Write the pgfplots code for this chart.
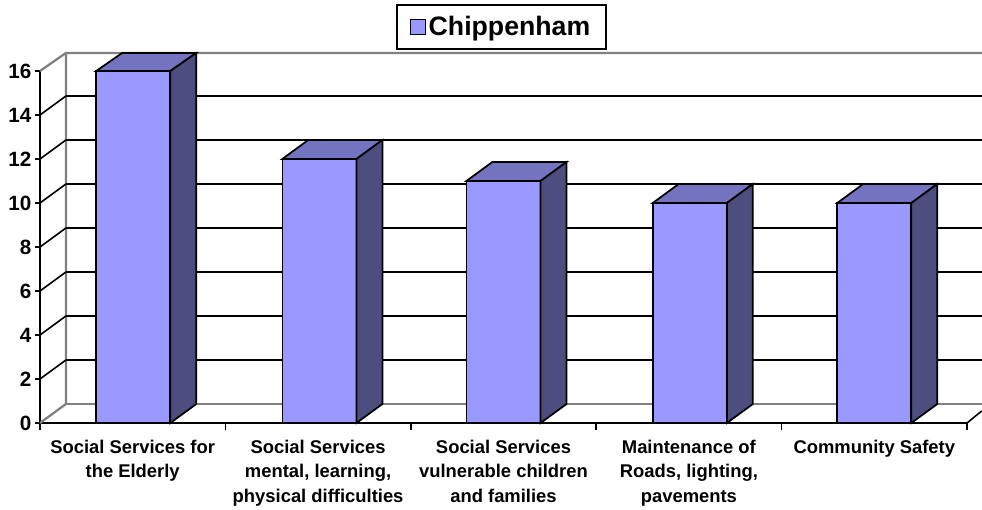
\documentclass[border=0pt]{standalone}
\usepackage{fontspec}
\setmainfont{Liberation Sans}
\usepackage{pgfplots}
\pgfplotsset{compat=1.18}
\definecolor{barfront}{HTML}{9999FF}
\definecolor{bartop}{HTML}{7373BF}
\definecolor{barside}{HTML}{4D4D80}
\definecolor{wallgray}{HTML}{808080}
\begin{document}
\begin{tikzpicture}
\useasboundingbox (-30pt,-65.25pt) rectangle (706.5pt,317.25pt);
\begin{axis}[
  anchor=south west, at={(0pt,0pt)},
  scale only axis, width=695.25pt, height=264pt,
  xmin=0, xmax=5, ymin=0, ymax=16,
  clip=false,
  axis x line=bottom, axis y line=left,
  axis line style={-, black, line width=1.4pt},
  tick align=outside,
  tick style={black, line width=1.1pt},
  ytick={0,2,...,16},
  major tick length=4pt,
  minor tick length=5.5pt,
  xtick={0.5,1.5,2.5,3.5,4.5},
  minor xtick={0,1,2,3,4,5},
  every major x tick/.append style={draw=none},
  every minor x tick/.append style={draw=black, line width=1.1pt},
  xticklabels={Social Services for\\the Elderly,Social Services\\mental{,} learning{,}\\physical difficulties,Social Services\\vulnerable children\\and families,Maintenance of\\Roads{,} lighting{,}\\pavements,Community Safety},
  x tick label style={align=center, font=\bfseries\fontsize{13.8pt}{18.7pt}\selectfont, yshift=-5pt},
  y tick label style={font=\bfseries\fontsize{15.5pt}{17pt}\selectfont, xshift=1pt},
  /pgf/number format/assume math mode=true,
  legend style={at={(0.4978,1.125)}, anchor=center, draw=black, line width=1.2pt, font=\bfseries\fontsize{20pt}{22pt}\selectfont, inner xsep=10pt, inner ysep=6.4pt},
  unbounded coords=jump,
]
% back wall: gray frame
\addplot[wallgray, line width=1.7pt, forget plot] coordinates {(0,0) (0.14,0.864) (0.14,16.82) (5.08,16.82)};
\addplot[wallgray, line width=1.7pt, forget plot] coordinates {(0.14,16.82) (0,16)};
\addplot[wallgray, line width=1.7pt, forget plot] coordinates {(0.14,0.864) (5.08,0.864)};
% grid lines
\addplot[black, line width=1.2pt, forget plot] coordinates {
 (0,2) (0.14,2.864) (5.08,2.864) (nan,nan)
 (0,4) (0.14,4.864) (5.08,4.864) (nan,nan)
 (0,6) (0.14,6.864) (5.08,6.864) (nan,nan)
 (0,8) (0.14,8.864) (5.08,8.864) (nan,nan)
 (0,10) (0.14,10.864) (5.08,10.864) (nan,nan)
 (0,12) (0.14,12.864) (5.08,12.864) (nan,nan)
 (0,14) (0.14,14.864) (5.08,14.864)};
\addplot[black, line width=1.2pt, forget plot] coordinates {(5,0) (5.08,0.55)};
% bars, front faces
\addplot[ybar, bar width=55.5pt, draw=black, line width=1.3pt, fill=barfront,
  legend image code/.code={\draw[black, line width=1pt, fill=barfront] (-2.5pt,-5.5pt) rectangle (8.5pt,5.5pt);}]
  coordinates {(0.503,16) (1.507,12) (2.5,11) (3.505,10) (4.5,10)};
\addlegendentry{Chippenham}
% bars, top and side faces
\addplot[draw=black, line width=1.3pt, fill=bartop, forget plot] coordinates {(0.303,16) (0.443,16.82) (0.843,16.82) (0.703,16)} -- cycle;
\addplot[draw=black, line width=1.3pt, fill=barside, forget plot] coordinates {(0.703,0) (0.843,0.864) (0.843,16.82) (0.703,16)} -- cycle;
\addplot[draw=black, line width=1.3pt, fill=bartop, forget plot] coordinates {(1.307,12) (1.447,12.864) (1.847,12.864) (1.707,12)} -- cycle;
\addplot[draw=black, line width=1.3pt, fill=barside, forget plot] coordinates {(1.707,0) (1.847,0.864) (1.847,12.864) (1.707,12)} -- cycle;
\addplot[draw=black, line width=1.3pt, fill=bartop, forget plot] coordinates {(2.3,11) (2.44,11.864) (2.84,11.864) (2.7,11)} -- cycle;
\addplot[draw=black, line width=1.3pt, fill=barside, forget plot] coordinates {(2.7,0) (2.84,0.864) (2.84,11.864) (2.7,11)} -- cycle;
\addplot[draw=black, line width=1.3pt, fill=bartop, forget plot] coordinates {(3.305,10) (3.445,10.864) (3.845,10.864) (3.705,10)} -- cycle;
\addplot[draw=black, line width=1.3pt, fill=barside, forget plot] coordinates {(3.705,0) (3.845,0.864) (3.845,10.864) (3.705,10)} -- cycle;
\addplot[draw=black, line width=1.3pt, fill=bartop, forget plot] coordinates {(4.3,10) (4.44,10.864) (4.84,10.864) (4.7,10)} -- cycle;
\addplot[draw=black, line width=1.3pt, fill=barside, forget plot] coordinates {(4.7,0) (4.84,0.864) (4.84,10.864) (4.7,10)} -- cycle;
\end{axis}
\end{tikzpicture}
\end{document}
